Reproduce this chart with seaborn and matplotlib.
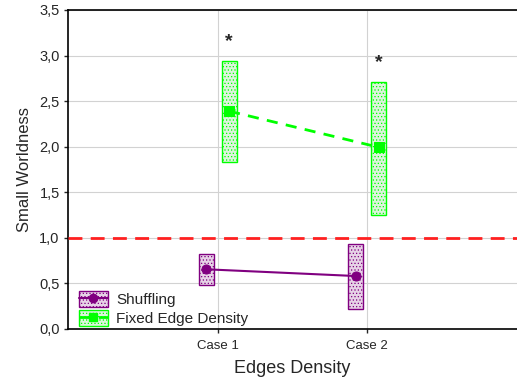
import numpy as np
import pandas as pd
import matplotlib
matplotlib.use("Agg")
import matplotlib.pyplot as plt
import seaborn as sns
from matplotlib.patches import Patch
from matplotlib.lines import Line2D
from matplotlib.ticker import FuncFormatter

sns.set_style("white")
plt.rcParams['font.family'] = ['Liberation Sans', 'DejaVu Sans']
plt.rcParams['hatch.linewidth'] = 0.5

# data
cases = ['Case 1', 'Case 2']
shuf_mean = [0.655, 0.581]
shuf_low = [0.479, 0.216]
shuf_high = [0.819, 0.929]
fixed_mean = [2.39, 1.994]
fixed_low = [1.83, 1.254]
fixed_high = [2.937, 2.706]
signif = ['*', '*']
baseline = 1.0

purple = '#800080'
green = '#00ff00'
offset = 0.076
width = 0.1

pos = np.arange(1, len(cases) + 1)

fig = plt.figure(figsize=(5.17, 3.81), dpi=100)
ax = fig.add_axes([0.1315, 0.1365, 0.8685, 0.8373])

# boxes showing the interval
ax.bar(pos - offset, np.array(shuf_high) - np.array(shuf_low), width=width, bottom=shuf_low,
       facecolor='#e6d2e6', edgecolor=purple, hatch='.....', linewidth=1, zorder=3)
ax.bar(pos + offset, np.array(fixed_high) - np.array(fixed_low), width=width, bottom=fixed_low,
       facecolor='#dcf5dc', edgecolor=green, hatch='.....', linewidth=1, zorder=3)

df_shuf = pd.DataFrame({'x': pos - offset, 'y': shuf_mean})
df_fixed = pd.DataFrame({'x': pos + offset, 'y': fixed_mean})
sns.lineplot(data=df_shuf, x='x', y='y', ax=ax, color=purple, marker='o', markersize=6.5,
             markeredgecolor=purple, linewidth=1.5, zorder=4)
sns.lineplot(data=df_fixed, x='x', y='y', ax=ax, color=green, marker='s', markersize=6.5,
             markeredgecolor=green, linewidth=2, linestyle=(0, (4, 3)), zorder=4)

ax.axhline(baseline, color='#ff2020', linestyle=(0, (5, 3)), linewidth=2, zorder=5)

for i, s in enumerate(signif):
    ax.text(pos[i] + offset, fixed_high[i] + 0.22, s, ha='center', va='center', fontsize=14,
            fontweight='bold', zorder=6)

ax.set_xlim(0, 3)
ax.set_ylim(0, 3.5)
ax.set_xticks(pos)
ax.set_xticklabels(cases, fontsize=9.5)
ax.set_yticks(np.arange(0, 3.51, 0.5))
ax.yaxis.set_major_formatter(FuncFormatter(lambda v, _: f'{v:.1f}'.replace('.', ',')))
ax.tick_params(axis='y', labelsize=10.5, length=3, width=1, direction='out', left=True, pad=3)
ax.tick_params(axis='x', length=3, width=1, direction='out', bottom=True, pad=5)
ax.grid(True, color='#d2d2d2', linewidth=0.8, zorder=0)
ax.set_axisbelow(True)
ax.set_xlabel('Edges Density', fontsize=13, labelpad=6)
ax.set_ylabel('Small Worldness', fontsize=12, labelpad=5)

for side in ['left', 'bottom', 'top']:
    ax.spines[side].set_color('black')
    ax.spines[side].set_linewidth(1.2)
ax.spines['right'].set_visible(False)

h_shuf = (Patch(facecolor='#e6d2e6', edgecolor=purple, hatch='.....'),
          Line2D([], [], color=purple, marker='o', markersize=6, linewidth=1.5))
h_fixed = (Patch(facecolor='#dcf5dc', edgecolor=green, hatch='.....'),
           Line2D([], [], color=green, marker='s', markersize=6, linewidth=2, linestyle=(0, (4, 3))))
ax.legend([h_shuf, h_fixed], ['Shuffling', 'Fixed Edge Density'], loc='lower left',
          bbox_to_anchor=(0.01, -0.01), frameon=False, fontsize=11, handlelength=1.9,
          handleheight=1.2, handletextpad=0.55, borderaxespad=0, borderpad=0.4,
          labelspacing=0.2)

fig.savefig('out.png', dpi=100)
